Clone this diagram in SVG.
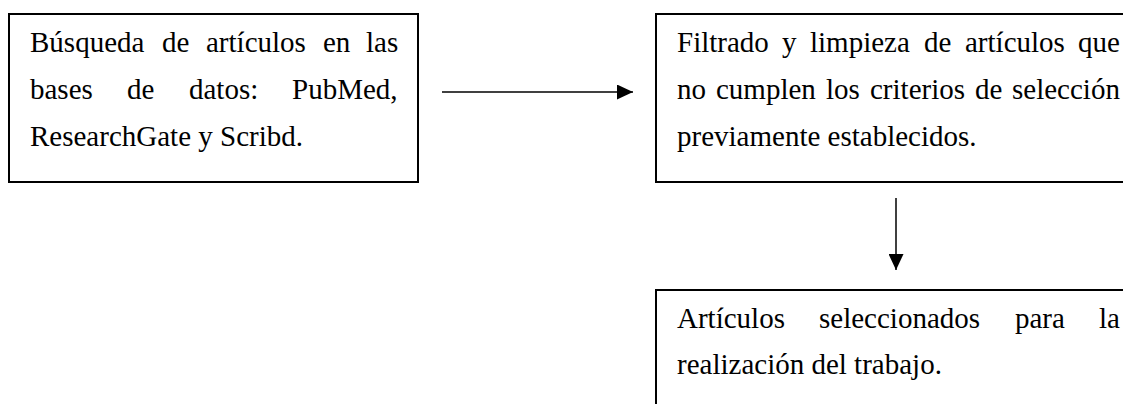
<svg xmlns="http://www.w3.org/2000/svg" width="1123" height="404" viewBox="0 0 1123 404">
<style>
.box{fill:#fff;stroke:#000;stroke-width:2}
.t{font-family:"Liberation Serif","Times New Roman",serif;font-size:29px;fill:#000}
.conn{stroke:#000;stroke-width:1.5;fill:none}
</style>
<defs>
<marker id="ah" markerUnits="userSpaceOnUse" markerWidth="16" markerHeight="15" refX="16" refY="7.5" orient="auto">
<path d="M0,0 L16,7.5 L0,15 z" fill="#000"/>
</marker>
</defs>
<rect width="1123" height="404" fill="#fff"/>
<g id="node-busqueda">
<rect class="box" x="9" y="14" width="409" height="168"/>
<text class="t" y="52"><tspan x="30">Búsqueda</tspan><tspan x="162">de</tspan><tspan x="206">artículos</tspan><tspan x="323">en</tspan><tspan x="366">las</tspan></text>
<text class="t" y="99"><tspan x="30">bases</tspan><tspan x="127">de</tspan><tspan x="189">datos:</tspan><tspan x="292">PubMed,</tspan></text>
<text class="t" x="30" y="146">ResearchGate y Scribd.</text>
</g>
<g id="node-filtrado">
<rect class="box" x="656" y="14" width="480" height="168"/>
<text class="t" y="52"><tspan x="677">Filtrado</tspan><tspan x="782">y</tspan><tspan x="810">limpieza</tspan><tspan x="924">de</tspan><tspan x="965">artículos</tspan><tspan x="1078">que</tspan></text>
<text class="t" y="99"><tspan x="677">no</tspan><tspan x="716">cumplen</tspan><tspan x="826">los</tspan><tspan x="870">criterios</tspan><tspan x="975">de</tspan><tspan x="1012">selección</tspan></text>
<text class="t" x="677" y="146">previamente establecidos.</text>
</g>
<g id="node-seleccionados">
<rect class="box" x="656" y="290" width="480" height="130"/>
<text class="t" y="328"><tspan x="677">Artículos</tspan><tspan x="819">seleccionados</tspan><tspan x="1015">para</tspan><tspan x="1099">la</tspan></text>
<text class="t" x="677" y="374">realización del trabajo.</text>
</g>
<g id="connectors">
<line class="conn" x1="442" y1="92" x2="633" y2="92" marker-end="url(#ah)"/>
<line class="conn" x1="896" y1="198" x2="896" y2="270" marker-end="url(#ah)"/>
</g>
</svg>
